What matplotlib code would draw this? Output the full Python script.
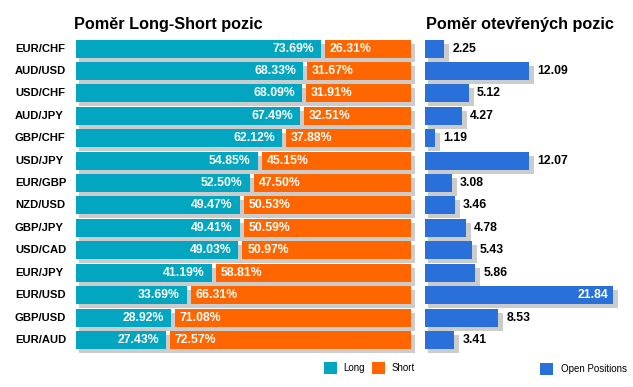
import matplotlib
matplotlib.use("Agg")
import matplotlib.pyplot as plt
from matplotlib.patches import Rectangle
from matplotlib.transforms import blended_transform_factory

plt.rcParams['font.family'] = ['Liberation Sans', 'DejaVu Sans']

pairs = ["EUR/CHF", "AUD/USD", "USD/CHF", "AUD/JPY", "GBP/CHF", "USD/JPY", "EUR/GBP",
         "NZD/USD", "GBP/JPY", "USD/CAD", "EUR/JPY", "EUR/USD", "GBP/USD", "EUR/AUD"]
long_pct = [73.69, 68.33, 68.09, 67.49, 62.12, 54.85, 52.50, 49.47, 49.41, 49.03, 41.19, 33.69, 28.92, 27.43]
short_pct = [26.31, 31.67, 31.91, 32.51, 37.88, 45.15, 47.50, 50.53, 50.59, 50.97, 58.81, 66.31, 71.08, 72.57]
open_pos = [2.25, 12.09, 5.12, 4.27, 1.19, 12.07, 3.08, 3.46, 4.78, 5.43, 5.86, 21.84, 8.53, 3.41]

title_left = "Poměr Long-Short pozic"
title_right = "Poměr otevřených pozic"
legend_labels = ["Long", "Short", "Open Positions"]

TEAL = "#02A6C0"
ORANGE = "#FF6600"
BLUE = "#2970DA"
SHADOW = "#CCCCCC"

cat_fs = 8.1
val_fs = 8.8
leg_fs = 7

W, H = 633, 387
fig = plt.figure(figsize=(W / 100, H / 100), dpi=100)

row0, rowstep = 48.5, 22.42
ytop_px, ybot_px = 30, 360
ylim = ((ybot_px - row0) / rowstep, (ytop_px - row0) / rowstep)
bar_h = 18 / rowstep
sh_dy = 4 / rowstep


def make_ax(x0_px, x1_px):
    ax = fig.add_axes([x0_px / W, 1 - ybot_px / H, (x1_px - x0_px) / W, (ybot_px - ytop_px) / H])
    ax.set_ylim(*ylim)
    ax.axis("off")
    return ax


# Left panel
pxu_l = 3.35
axL = make_ax(76, 420)
axL.set_xlim(0, 344 / pxu_l)
gap = 0.6
for i, (lv, sv) in enumerate(zip(long_pct, short_pct)):
    axL.add_patch(Rectangle((3 / pxu_l, i - bar_h / 2 + sh_dy), 100 + 1 / pxu_l, bar_h,
                            facecolor=SHADOW, edgecolor="none", zorder=1))
    axL.barh(i, lv - gap, height=bar_h, left=0, color=TEAL, zorder=2)
    axL.barh(i, 100 - lv - gap, height=bar_h, left=lv + gap, color=ORANGE, zorder=2)
    axL.text(lv - gap - 7 / pxu_l, i, f"{lv:.2f}%", ha="right", va="center",
             color="white", fontsize=val_fs, fontweight="bold", zorder=3)
    axL.text(lv + gap + 5 / pxu_l, i, f"{sv:.2f}%", ha="left", va="center",
             color="white", fontsize=val_fs, fontweight="bold", zorder=3)

trans_lab = blended_transform_factory(fig.transFigure, axL.transData)
for i, p in enumerate(pairs):
    axL.text(15 / W, i, p, transform=trans_lab, ha="left", va="center",
             fontsize=cat_fs, fontweight="bold", color="black")

# Right panel
pxu_r = 8.608
axR = make_ax(425, 633)
axR.set_xlim(0, 208 / pxu_r)
vmax = max(open_pos)
for i, v in enumerate(open_pos):
    axR.add_patch(Rectangle((3 / pxu_r, i - bar_h / 2 + sh_dy), v + 2 / pxu_r, bar_h,
                            facecolor=SHADOW, edgecolor="none", zorder=1))
    axR.barh(i, v, height=bar_h, left=0, color=BLUE, zorder=2)
    if v > 0.9 * vmax:
        axR.text(v - 5 / pxu_r, i, f"{v:.2f}", ha="right", va="center",
                 color="white", fontsize=val_fs, fontweight="bold", zorder=3)
    else:
        axR.text(v + 8 / pxu_r, i, f"{v:.2f}", ha="left", va="center",
                 color="black", fontsize=val_fs, fontweight="bold", zorder=3)

# Titles
fig.text(74 / W, 1 - 24 / H, title_left, ha="left", va="center",
         fontsize=11.7, fontweight="bold", color="black")
fig.text(426 / W, 1 - 24 / H, title_right, ha="left", va="center",
         fontsize=11.7, fontweight="bold", color="black")

# Legend
legend_items = [(324, 343, TEAL, legend_labels[0]),
                (372, 392, ORANGE, legend_labels[1]),
                (540, 561, BLUE, legend_labels[2])]
for sx, tx, col, lab in legend_items:
    sy = 362 if col != BLUE else 363
    fig.patches.append(Rectangle((sx / W, 1 - (sy + 12) / H), 13 / W, 12 / H,
                                 transform=fig.transFigure, facecolor=col,
                                 edgecolor="none"))
    fig.text(tx / W, 1 - (sy + 6) / H, lab, ha="left", va="center",
             fontsize=leg_fs, color="black")

fig.savefig("out.png", dpi=100)
